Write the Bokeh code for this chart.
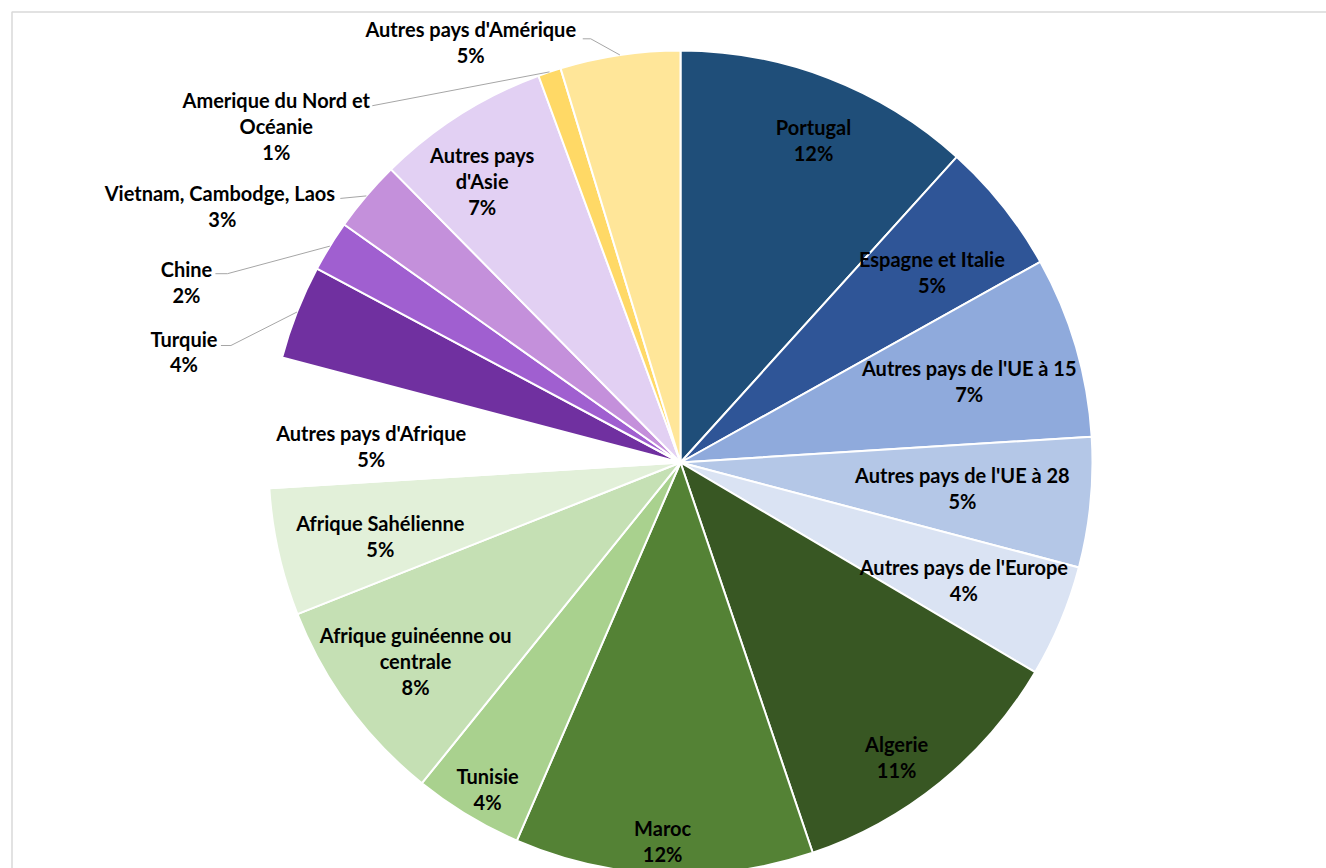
import numpy as np
from bokeh.plotting import figure
from bokeh.models import Range1d, ColumnDataSource
from bokeh.core.properties import value
from bokeh.embed import file_html
from bokeh.resources import INLINE

# ---------------- data ----------------
categories = [
    "Portugal", "Espagne et Italie", "Autres pays de l'UE à 15",
    "Autres pays de l'UE à 28", "Autres pays de l'Europe", "Algerie",
    "Maroc", "Tunisie", "Afrique guinéenne ou\ncentrale", "Afrique Sahélienne",
    "Autres pays d'Afrique", "Turquie", "Chine", "Vietnam, Cambodge,  Laos",
    "Autres pays\nd'Asie", "Amerique du Nord et\nOcéanie", "Autres pays d'Amérique",
]
shares = [11.7, 5.2, 7.1, 5.1, 4.4, 11.3, 11.7, 4.3, 8.2, 5.0, 5.1,
          3.7, 2.0, 2.8, 6.8, 0.9, 4.7]
colors = ["#1F4E79", "#2F5597", "#8FAADC", "#B4C7E7", "#DAE3F3", "#385723",
          "#548235", "#A9D18E", "#C5E0B4", "#E2F0D9", "#FFFFFF",
          "#7030A0", "#A05FD0", "#C490DB", "#E2D0F3", "#FFD966", "#FFE699"]

# ---------------- layout ----------------
W, H = 1326, 868
CX, CY_PX, R = 680, 462, 412
# label placement: (angle nudge from slice middle in degrees, radius fraction)
label_nudge = [1.34, 1.42, 0.68, -0.48, -0.08, 2.76, 0.36, -0.54, -0.44, -1.1,
               -2.48, -8.82, -11.58, -11.12, -2.8, -31.66, -18.04]
label_rfrac = [0.847, 0.765, 0.728, 0.687, 0.745, 0.886, 0.92, 0.92, 0.803, 0.75,
               0.752, 1.235, 1.277, 1.274, 0.835, 1.277, 1.141]
# leader lines for outside labels: slice index -> (dx, dy, elbow) in px from label centre
leaders = {11: (37, -6, 10), 12: (29, -8, 12), 13: (118, -8, 0),
           15: (96, -20, 0), 16: (112, -3, 8)}
FONT = "Lato"
FSIZE = "20px"

# ---------------- computations ----------------
vals = np.array(shares, dtype=float)
total = vals.sum()
cum = np.cumsum(vals) / total * 360.0
theta0 = np.concatenate([[0.0], cum[:-1]])
theta1 = cum
mid = (theta0 + theta1) / 2.0

CY = H - CY_PX
start = np.radians(90.0 - theta0)
end = np.radians(90.0 - theta1)

p = figure(width=W, height=H, x_range=Range1d(0, W), y_range=Range1d(0, H),
           x_axis_type=None, y_axis_type=None, toolbar_location=None,
           output_backend="svg", min_border=0)
p.grid.visible = False
p.outline_line_color = None
p.background_fill_color = "white"
p.border_fill_color = "white"

# chart-area border (top/left visible)
p.line([11.5, 11.5, W + 5], [-5, H - 11.5, H - 11.5], line_color="#D9D9D9", line_width=1.5)

src = ColumnDataSource(dict(start=start, end=end, color=colors, name=categories))
p.wedge(x=CX, y=CY, radius=R, start_angle="start", end_angle="end",
        direction="clock", fill_color="color", line_color="white",
        line_width=2, source=src)

# labels
lx, ly, texts = [], [], []
for i, v in enumerate(vals):
    th = np.radians(mid[i] + label_nudge[i])
    r = R * label_rfrac[i]
    px = CX + r * np.sin(th)
    py = CY_PX - r * np.cos(th)
    pct = int(np.floor(v / total * 100 + 0.5))
    lx.append(px)
    ly.append(H - py)
    texts.append(f"{categories[i]}\n{pct}%")

# leader lines
xs, ys = [], []
for i, (dx, dy, elbow) in leaders.items():
    th = np.radians(mid[i])
    ax = CX + R * np.sin(th)
    ay = CY_PX - R * np.cos(th)
    sx = lx[i] + dx
    sy = (H - ly[i]) + dy
    xs.append([sx, sx + elbow, ax])
    ys.append([H - sy, H - sy, H - ay])
p.multi_line(xs, ys, line_color="#A6A6A6", line_width=1)

p.text(x=lx, y=ly, text=texts, text_font=value(FONT), text_font_size=FSIZE,
       text_font_style="bold", text_color="#000000", text_align="center",
       text_baseline="middle", text_line_height=1.08)

open("out.html", "w").write(file_html(p, INLINE))
